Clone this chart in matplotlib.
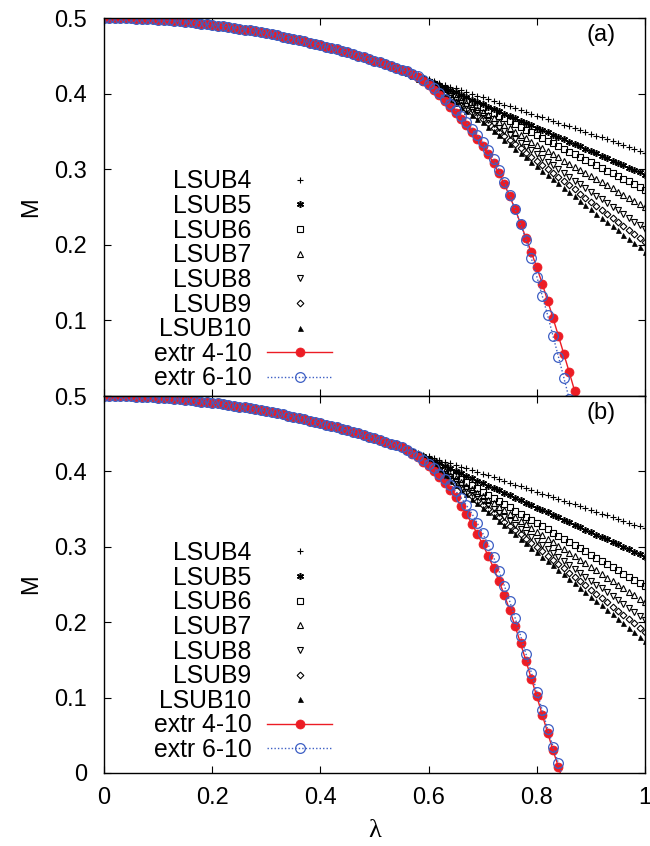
import matplotlib
matplotlib.use('Agg')
import matplotlib.pyplot as plt

plt.rcParams['font.family'] = ['Liberation Sans', 'DejaVu Sans']

lam = [0.00, 0.01, 0.02, 0.03, 0.04, 0.05, 0.06, 0.07, 0.08, 0.09,
       0.10, 0.11, 0.12, 0.13, 0.14, 0.15, 0.16, 0.17, 0.18, 0.19,
       0.20, 0.21, 0.22, 0.23, 0.24, 0.25, 0.26, 0.27, 0.28, 0.29,
       0.30, 0.31, 0.32, 0.33, 0.34, 0.35, 0.36, 0.37, 0.38, 0.39,
       0.40, 0.41, 0.42, 0.43, 0.44, 0.45, 0.46, 0.47, 0.48, 0.49,
       0.50, 0.51, 0.52, 0.53, 0.54, 0.55, 0.56, 0.57, 0.58, 0.59,
       0.60, 0.61, 0.62, 0.63, 0.64, 0.65, 0.66, 0.67, 0.68, 0.69,
       0.70, 0.71, 0.72, 0.73, 0.74, 0.75, 0.76, 0.77, 0.78, 0.79,
       0.80, 0.81, 0.82, 0.83, 0.84, 0.85, 0.86, 0.87, 0.88, 0.89,
       0.90, 0.91, 0.92, 0.93, 0.94, 0.95, 0.96, 0.97, 0.98, 0.99, 1.00]

# shared low-lambda part (lambda = 0.00 ... 0.55), identical for all curves
common = [0.5000, 0.5000, 0.4999, 0.4998, 0.4996, 0.4994, 0.4992, 0.4989, 0.4986, 0.4982,
          0.4978, 0.4973, 0.4968, 0.4962, 0.4956, 0.4949, 0.4942, 0.4935, 0.4927, 0.4919,
          0.4910, 0.4901, 0.4891, 0.4881, 0.4870, 0.4859, 0.4848, 0.4836, 0.4824, 0.4811,
          0.4798, 0.4784, 0.4770, 0.4755, 0.4740, 0.4724, 0.4708, 0.4692, 0.4675, 0.4658,
          0.4640, 0.4622, 0.4603, 0.4584, 0.4564, 0.4544, 0.4524, 0.4503, 0.4482, 0.4460,
          0.4438, 0.4415, 0.4392, 0.4368, 0.4344, 0.4319]

# ---- panel (a): tails from lambda = 0.56 ----
a_lsub4 = [0.4293, 0.4267, 0.4241, 0.4215, 0.4190,
           0.4166, 0.4142, 0.4118, 0.4094, 0.4070, 0.4046, 0.4022, 0.3998, 0.3974, 0.3950,
           0.3926, 0.3902, 0.3878, 0.3854, 0.3830, 0.3806, 0.3782, 0.3758, 0.3734, 0.3710,
           0.3686, 0.3662, 0.3638, 0.3614, 0.3590, 0.3566, 0.3542, 0.3518, 0.3494, 0.3470,
           0.3445, 0.3420, 0.3395, 0.3370, 0.3345, 0.3320, 0.3295, 0.3270, 0.3245, 0.3220]
a_lsub5 = [0.4290, 0.4260, 0.4230, 0.4200, 0.4170,
           0.4139, 0.4108, 0.4077, 0.4046, 0.4015, 0.3984, 0.3953, 0.3922, 0.3891, 0.3860,
           0.3829, 0.3798, 0.3767, 0.3736, 0.3705, 0.3674, 0.3643, 0.3612, 0.3581, 0.3550,
           0.3519, 0.3488, 0.3457, 0.3426, 0.3395, 0.3364, 0.3333, 0.3302, 0.3271, 0.3240,
           0.3209, 0.3177, 0.3146, 0.3114, 0.3083, 0.3051, 0.3020, 0.2988, 0.2957, 0.2925]
a_lsub6 = [0.4288, 0.4256, 0.4224, 0.4192, 0.4160,
           0.4126, 0.4092, 0.4058, 0.4024, 0.3990, 0.3956, 0.3922, 0.3888, 0.3854, 0.3820,
           0.3783, 0.3746, 0.3709, 0.3672, 0.3635, 0.3598, 0.3561, 0.3524, 0.3487, 0.3450,
           0.3414, 0.3378, 0.3342, 0.3306, 0.3270, 0.3234, 0.3198, 0.3162, 0.3126, 0.3090,
           0.3054, 0.3018, 0.2982, 0.2946, 0.2910, 0.2874, 0.2838, 0.2802, 0.2766, 0.2730]
a_lsub7 = [0.4285, 0.4251, 0.4217, 0.4183, 0.4150,
           0.4111, 0.4072, 0.4033, 0.3994, 0.3955, 0.3916, 0.3877, 0.3838, 0.3799, 0.3760,
           0.3716, 0.3672, 0.3628, 0.3584, 0.3540, 0.3496, 0.3452, 0.3408, 0.3364, 0.3320,
           0.3279, 0.3238, 0.3197, 0.3156, 0.3115, 0.3074, 0.3033, 0.2992, 0.2951, 0.2910,
           0.2869, 0.2828, 0.2787, 0.2746, 0.2705, 0.2664, 0.2623, 0.2582, 0.2541, 0.2500]
a_lsub8 = [0.4283, 0.4247, 0.4211, 0.4175, 0.4140,
           0.4096, 0.4052, 0.4008, 0.3964, 0.3920, 0.3876, 0.3832, 0.3788, 0.3744, 0.3700,
           0.3650, 0.3600, 0.3550, 0.3500, 0.3450, 0.3400, 0.3350, 0.3300, 0.3250, 0.3200,
           0.3150, 0.3100, 0.3050, 0.3000, 0.2950, 0.2900, 0.2850, 0.2800, 0.2750, 0.2700,
           0.2651, 0.2602, 0.2553, 0.2504, 0.2455, 0.2406, 0.2357, 0.2308, 0.2259, 0.2210]
a_lsub9 = [0.4281, 0.4243, 0.4205, 0.4167, 0.4130,
           0.4083, 0.4036, 0.3989, 0.3942, 0.3895, 0.3848, 0.3801, 0.3754, 0.3707, 0.3660,
           0.3605, 0.3550, 0.3495, 0.3440, 0.3385, 0.3330, 0.3275, 0.3220, 0.3165, 0.3110,
           0.3056, 0.3002, 0.2948, 0.2894, 0.2840, 0.2786, 0.2732, 0.2678, 0.2624, 0.2570,
           0.2517, 0.2464, 0.2411, 0.2358, 0.2305, 0.2252, 0.2199, 0.2146, 0.2093, 0.2040]
a_lsub10 = [0.4279, 0.4239, 0.4199, 0.4159, 0.4120,
            0.4070, 0.4020, 0.3970, 0.3920, 0.3870, 0.3820, 0.3770, 0.3720, 0.3670, 0.3620,
            0.3562, 0.3504, 0.3446, 0.3388, 0.3330, 0.3272, 0.3214, 0.3156, 0.3098, 0.3040,
            0.2983, 0.2926, 0.2869, 0.2812, 0.2755, 0.2698, 0.2641, 0.2584, 0.2527, 0.2470,
            0.2414, 0.2358, 0.2302, 0.2246, 0.2190, 0.2134, 0.2078, 0.2022, 0.1966, 0.1910]
a_extr410 = [0.4293, 0.4262, 0.4222, 0.4172, 0.4115,
             0.4050, 0.3980, 0.3903, 0.3825, 0.3745, 0.3663, 0.3580, 0.3495, 0.3405, 0.3310,
             0.3200, 0.3080, 0.2945, 0.2800, 0.2640, 0.2470, 0.2280, 0.2092, 0.1900, 0.1700,
             0.1488, 0.1262, 0.1030, 0.0794, 0.0556, 0.0314, 0.0066, -0.0180]
a_extr610 = [0.4294, 0.4266, 0.4230, 0.4185, 0.4130,
             0.4070, 0.4005, 0.3935, 0.3860, 0.3782, 0.3700, 0.3618, 0.3535, 0.3448, 0.3355,
             0.3250, 0.3130, 0.2990, 0.2830, 0.2660, 0.2470, 0.2277, 0.2065, 0.1820, 0.1580,
             0.1328, 0.1070, 0.0794, 0.0520, 0.0242, -0.0040]

# ---- panel (b): tails from lambda = 0.56 ----
b_lsub4 = [0.4295, 0.4271, 0.4247, 0.4223, 0.4200,
           0.4177, 0.4154, 0.4131, 0.4108, 0.4085, 0.4062, 0.4039, 0.4016, 0.3993, 0.3970,
           0.3946, 0.3922, 0.3898, 0.3874, 0.3850, 0.3826, 0.3802, 0.3778, 0.3754, 0.3730,
           0.3706, 0.3682, 0.3658, 0.3634, 0.3610, 0.3586, 0.3562, 0.3538, 0.3514, 0.3490,
           0.3466, 0.3441, 0.3417, 0.3392, 0.3368, 0.3343, 0.3319, 0.3294, 0.3270, 0.3245]
b_lsub5 = [0.4289, 0.4259, 0.4229, 0.4199, 0.4170,
           0.4138, 0.4105, 0.4073, 0.4040, 0.4008, 0.3975, 0.3943, 0.3910, 0.3878, 0.3845,
           0.3813, 0.3780, 0.3748, 0.3715, 0.3683, 0.3650, 0.3618, 0.3585, 0.3553, 0.3520,
           0.3488, 0.3455, 0.3423, 0.3390, 0.3358, 0.3325, 0.3293, 0.3260, 0.3228, 0.3195,
           0.3163, 0.3130, 0.3098, 0.3065, 0.3033, 0.3000, 0.2968, 0.2935, 0.2903, 0.2870]
b_lsub6 = [0.4285, 0.4251, 0.4217, 0.4183, 0.4150,
           0.4108, 0.4066, 0.4025, 0.3983, 0.3941, 0.3899, 0.3857, 0.3816, 0.3774, 0.3732,
           0.3690, 0.3648, 0.3607, 0.3565, 0.3523, 0.3481, 0.3439, 0.3398, 0.3356, 0.3314,
           0.3272, 0.3230, 0.3189, 0.3147, 0.3105, 0.3063, 0.3021, 0.2980, 0.2938, 0.2896,
           0.2854, 0.2812, 0.2771, 0.2729, 0.2687, 0.2645, 0.2603, 0.2562, 0.2520, 0.2478]
b_lsub7 = [0.4283, 0.4247, 0.4211, 0.4175, 0.4140,
           0.4093, 0.4046, 0.3999, 0.3952, 0.3906, 0.3859, 0.3812, 0.3765, 0.3718, 0.3671,
           0.3624, 0.3577, 0.3530, 0.3483, 0.3437, 0.3390, 0.3343, 0.3296, 0.3249, 0.3202,
           0.3155, 0.3108, 0.3061, 0.3014, 0.2968, 0.2921, 0.2874, 0.2827, 0.2780, 0.2733,
           0.2686, 0.2639, 0.2592, 0.2545, 0.2499, 0.2452, 0.2405, 0.2358, 0.2311, 0.2264]
b_lsub8 = [0.4281, 0.4243, 0.4205, 0.4167, 0.4130,
           0.4077, 0.4025, 0.3972, 0.3920, 0.3867, 0.3814, 0.3762, 0.3709, 0.3657, 0.3604,
           0.3551, 0.3499, 0.3446, 0.3394, 0.3341, 0.3288, 0.3236, 0.3183, 0.3131, 0.3078,
           0.3025, 0.2973, 0.2920, 0.2868, 0.2815, 0.2762, 0.2710, 0.2657, 0.2605, 0.2552,
           0.2499, 0.2447, 0.2394, 0.2342, 0.2289, 0.2236, 0.2184, 0.2131, 0.2079, 0.2026]
b_lsub9 = [0.4279, 0.4239, 0.4199, 0.4159, 0.4120,
           0.4064, 0.4008, 0.3951, 0.3895, 0.3839, 0.3783, 0.3726, 0.3670, 0.3614, 0.3558,
           0.3501, 0.3445, 0.3389, 0.3333, 0.3276, 0.3220, 0.3164, 0.3108, 0.3051, 0.2995,
           0.2939, 0.2883, 0.2826, 0.2770, 0.2714, 0.2658, 0.2601, 0.2545, 0.2489, 0.2433,
           0.2376, 0.2320, 0.2264, 0.2208, 0.2151, 0.2095, 0.2039, 0.1983, 0.1926, 0.1870]
b_lsub10 = [0.4277, 0.4235, 0.4193, 0.4151, 0.4110,
            0.4051, 0.3992, 0.3933, 0.3874, 0.3815, 0.3756, 0.3697, 0.3638, 0.3579, 0.3520,
            0.3461, 0.3402, 0.3343, 0.3284, 0.3225, 0.3166, 0.3107, 0.3048, 0.2989, 0.2930,
            0.2871, 0.2812, 0.2753, 0.2694, 0.2635, 0.2576, 0.2517, 0.2458, 0.2399, 0.2340,
            0.2281, 0.2222, 0.2163, 0.2104, 0.2045, 0.1986, 0.1927, 0.1868, 0.1809, 0.1750]
b_extr410 = [0.4280, 0.4235, 0.4185, 0.4130, 0.4070,
             0.4000, 0.3925, 0.3845, 0.3760, 0.3655, 0.3545, 0.3430, 0.3305, 0.3172, 0.3032,
             0.2882, 0.2720, 0.2548, 0.2360, 0.2160, 0.1945, 0.1720, 0.1485, 0.1248, 0.1015,
             0.0775, 0.0535, 0.0300, 0.0080, -0.0150]
b_extr610 = [0.4290, 0.4250, 0.4205, 0.4155, 0.4100,
             0.4040, 0.3970, 0.3900, 0.3825, 0.3740, 0.3648, 0.3550, 0.3440, 0.3315, 0.3180,
             0.3030, 0.2865, 0.2682, 0.2485, 0.2275, 0.2055, 0.1820, 0.1578, 0.1330, 0.1080,
             0.0832, 0.0587, 0.0350, 0.0128, -0.0090]

labels = ['LSUB4', 'LSUB5', 'LSUB6', 'LSUB7', 'LSUB8', 'LSUB9', 'LSUB10',
          'extr 4-10', 'extr 6-10']
panel_names = ['(a)', '(b)']
yticks = [0.0, 0.1, 0.2, 0.3, 0.4, 0.5]
xticks = [0.0, 0.2, 0.4, 0.6, 0.8, 1.0]
xticklabels = ['0', '0.2', '0.4', '0.6', '0.8', '1']
yticklabels = ['0', '0.1', '0.2', '0.3', '0.4', '0.5']

panels = [
    [a_lsub4, a_lsub5, a_lsub6, a_lsub7, a_lsub8, a_lsub9, a_lsub10, a_extr410, a_extr610],
    [b_lsub4, b_lsub5, b_lsub6, b_lsub7, b_lsub8, b_lsub9, b_lsub10, b_extr410, b_extr610],
]

RED = '#ec1c24'
BLUE = '#3d5fc4'
lsub_styles = [
    dict(marker='+', ms=5.0, mew=0.8, color='black'),
    dict(marker=(6, 2, 0), ms=5.0, mew=1.1, color='black'),
    dict(marker='s', ms=4.2, mew=0.8, mfc='none', color='black'),
    dict(marker='^', ms=4.6, mew=0.8, mfc='none', color='black'),
    dict(marker='v', ms=4.6, mew=0.8, mfc='none', color='black'),
    dict(marker='D', ms=3.4, mew=0.8, mfc='none', color='black'),
    dict(marker='^', ms=3.6, mew=0.5, color='black'),
]
extr_styles = [
    dict(color=RED, lw=1.0, ls='-', marker='o', ms=6.5, mfc=RED, mec=RED, mew=0.5),
    dict(color=BLUE, lw=1.0, ls=(0, (1, 1.5)), marker='o', ms=7.0, mfc='none', mec=BLUE, mew=0.9),
]

fig = plt.figure(figsize=(6.5, 8.46), dpi=100)
ax_a = fig.add_axes([0.16, 0.5319, 0.8323, 0.4468])
ax_b = fig.add_axes([0.16, 0.0863, 0.8323, 0.4456])
legend_y = [0.307, 0.322]

for k, (ax, series) in enumerate(zip([ax_a, ax_b], panels)):
    handles = []
    for i in range(7):
        y = common + series[i]
        h, = ax.plot(lam[:len(y)], y, ls='none', label=labels[i], **lsub_styles[i])
        handles.append(h)
    for j in range(2):
        y = common + series[7 + j]
        h, = ax.plot(lam[:len(y)], y, label=labels[7 + j], **extr_styles[j])
        handles.append(h)
    ax.set_xlim(0, 1)
    ax.set_ylim(0, 0.5)
    ax.set_xticks(xticks)
    ax.set_yticks(yticks)
    if k == 0:
        ax.set_xticklabels([])
        ax.set_yticklabels([''] + yticklabels[1:])
    else:
        ax.set_xticklabels(xticklabels)
        ax.set_yticklabels(yticklabels)
    ax.tick_params(direction='in', top=True, right=True, length=5, width=0.8,
                   labelsize=17, pad=10)
    ax.tick_params(axis='y', pad=12)
    for s in ax.spines.values():
        s.set_linewidth(1.0)
    ax.set_ylabel('M', fontsize=17, labelpad=9)
    ax.text(0.945, 0.955, panel_names[k], transform=ax.transAxes, ha='right',
            va='center', fontsize=17)
    leg = ax.legend(handles=handles, loc='center right',
                    bbox_to_anchor=(0.421, legend_y[k]), frameon=False,
                    markerfirst=False, fontsize=17.8, handlelength=2.6,
                    handletextpad=0.65, labelspacing=0.025, borderpad=0,
                    borderaxespad=0, numpoints=1)

ax_b.set_xlabel('λ', fontsize=19, family=['Liberation Serif', 'DejaVu Serif'], labelpad=8)

fig.savefig('out.png', dpi=100)
